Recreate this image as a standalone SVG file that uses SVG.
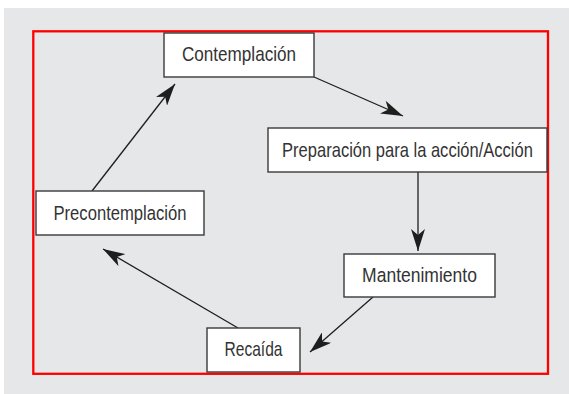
<svg xmlns="http://www.w3.org/2000/svg" width="569" height="394" viewBox="0 0 569 394">
<defs>
<style>
.box{fill:#ffffff;stroke:#3a3a3a;stroke-width:1.4}
.lbl{font-family:"Liberation Sans",Arial,sans-serif;font-size:20.5px;fill:#333333;text-anchor:middle}
.edge{stroke:#1e1e1e;stroke-width:1.3;fill:none;marker-end:url(#ah)}
</style>
<marker id="ah" viewBox="0 0 22 14" refX="22" refY="7" markerWidth="22" markerHeight="14" markerUnits="userSpaceOnUse" orient="auto">
<path d="M0,0 L22,7 L0,14 L6,7 z" fill="#1e1e1e"/>
</marker>
</defs>
<rect x="0" y="0" width="569" height="394" fill="#ffffff"/>
<rect x="4" y="8" width="565" height="386" fill="#e6e7e8"/>
<rect x="33.3" y="31.3" width="514.7" height="342.5" fill="none" stroke="#ff0000" stroke-width="2.3"/>
<g id="connectors">
<line class="edge" x1="314" y1="77" x2="403" y2="116"/>
<line class="edge" x1="418" y1="172" x2="418" y2="251"/>
<line class="edge" x1="373" y1="297" x2="310" y2="352"/>
<line class="edge" x1="238" y1="328" x2="103" y2="249"/>
<line class="edge" x1="92" y1="191" x2="175" y2="84"/>
</g>
<g id="contemplacion">
<rect class="box" x="164" y="33" width="150" height="44"/>
<text class="lbl" transform="translate(239 61) scale(0.834 1)">Contemplación</text>
</g>
<g id="preparacion">
<rect class="box" x="268" y="128" width="279" height="44"/>
<text class="lbl" transform="translate(407.5 157) scale(0.807 1)">Preparación para la acción/Acción</text>
</g>
<g id="mantenimiento">
<rect class="box" x="344" y="254" width="151" height="43"/>
<text class="lbl" transform="translate(419.5 282) scale(0.855 1)">Mantenimiento</text>
</g>
<g id="recaida">
<rect class="box" x="207" y="328" width="93" height="44"/>
<text class="lbl" transform="translate(253.5 356) scale(0.76 1)">Recaída</text>
</g>
<g id="precontemplacion">
<rect class="box" x="36" y="191" width="168" height="44"/>
<text class="lbl" transform="translate(120 220) scale(0.811 1)">Precontemplación</text>
</g>
</svg>
